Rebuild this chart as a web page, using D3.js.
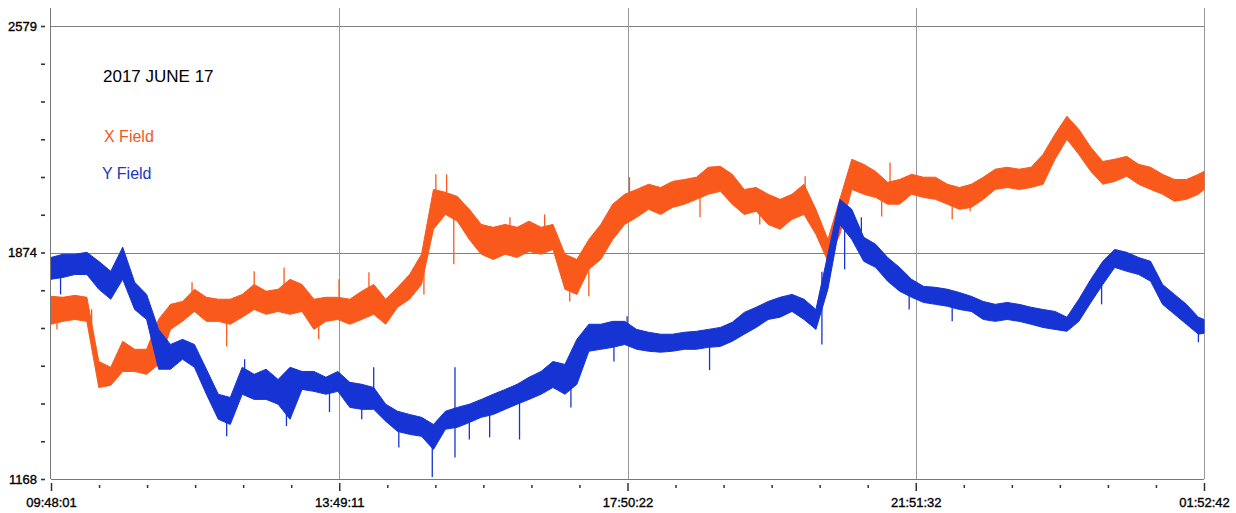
<!DOCTYPE html>
<html>
<head>
<meta charset="UTF-8">
<title>2017 JUNE 17</title>
<script src="https://cdn.jsdelivr.net/npm/d3@7/dist/d3.min.js"></script>
<style>
body { margin: 0; background: #fff; }
svg text { font-family: "Liberation Sans", Arial, sans-serif; }
</style>
</head>
<body>
<script>
// 読み取ったデータ（10分ごと、ノイズ帯の上端と下端）
var startTime = new Date(2017, 5, 17, 9, 48, 1);
var endTime = new Date(2017, 5, 18, 1, 52, 42);

var xHigh = [1737,1734,1740,1734,1534,1516,1597,1572,1572,1665,
  1712,1721,1759,1734,1728,1728,1743,1774,1753,1759,
  1790,1774,1728,1734,1734,1728,1753,1774,1728,1765,
  1805,1868,2070,2061,2048,2008,1961,1952,1961,1952,
  1971,1952,1961,1868,1852,1914,1961,2024,2055,2070,
  2086,2076,2095,2101,2108,2139,2142,2117,2070,2076,
  2055,2039,2055,2086,2008,1914,2039,2164,2148,2126,
  2092,2101,2117,2108,2108,2086,2076,2086,2108,2133,
  2139,2133,2139,2179,2242,2298,2257,2201,2157,2164,
  2173,2148,2139,2117,2101,2101,2117,2126];
var xLow = [1650,1659,1665,1659,1453,1460,1503,1503,1494,1525,
  1634,1659,1690,1659,1659,1650,1672,1696,1681,1690,
  1681,1690,1634,1659,1665,1650,1665,1681,1650,1703,
  1728,1774,1946,1992,1971,1914,1868,1852,1868,1858,
  1877,1868,1883,1759,1743,1821,1852,1914,1961,1983,
  2008,1992,2014,2024,2039,2055,2064,2024,1992,2002,
  1961,1946,1977,1992,1930,1846,1930,2070,2055,2045,
  2024,2024,2055,2045,2039,2024,2008,2014,2039,2070,
  2076,2070,2076,2086,2164,2226,2179,2126,2086,2095,
  2111,2086,2070,2055,2033,2039,2055,2070];
var yHigh = [1858,1868,1868,1874,1846,1815,1890,1781,1743,1634,
  1587,1603,1587,1510,1432,1422,1516,1494,1510,1478,
  1516,1503,1503,1485,1503,1469,1463,1453,1401,1379,
  1369,1360,1338,1379,1391,1401,1416,1432,1447,1463,
  1485,1503,1534,1525,1603,1650,1650,1659,1659,1634,
  1625,1619,1619,1625,1628,1634,1640,1656,1687,1703,
  1721,1734,1743,1728,1696,1868,2039,2008,1921,1899,
  1858,1827,1790,1768,1765,1759,1749,1737,1721,1712,
  1718,1712,1703,1696,1690,1672,1728,1790,1846,1883,
  1874,1858,1846,1774,1743,1712,1672,1665];
var yLow = [1790,1796,1805,1805,1759,1728,1790,1696,1665,1510,
  1510,1541,1516,1432,1354,1338,1432,1416,1416,1401,
  1354,1447,1441,1432,1441,1391,1385,1385,1348,1316,
  1307,1301,1260,1323,1329,1344,1360,1369,1385,1401,
  1416,1432,1453,1432,1463,1566,1572,1578,1587,1572,
  1566,1563,1566,1572,1572,1578,1581,1597,1619,1640,
  1665,1672,1690,1665,1634,1759,1961,1914,1846,1827,
  1784,1753,1734,1718,1712,1706,1696,1690,1665,1659,
  1665,1659,1650,1640,1634,1628,1659,1718,1774,1827,
  1815,1805,1784,1712,1681,1650,1619,1622];

// スパイク [開始からの分, 値]
var xSpikes = [[5,1634],[34,1609],[118,1781],[147,1581],[170,1815],[195,1827],
  [224,1603],[241,1790],[266,1812],[312,1743],[322,2117],[331,2117],[337,1837],
  [384,1983],[413,1992],[434,1721],[450,1737],[484,2108],[543,1983],[593,1961],
  [631,2111],[695,1986],[702,2154],[754,1977],[769,2002]];
var ySpikes = [[8,1743],[147,1301],[162,1541],[197,1333],[233,1376],[260,1354],
  [270,1516],[291,1266],[319,1174],[338,1516],[338,1235],[350,1291],[367,1298],
  [392,1291],[435,1391],[471,1534],[482,1675],[551,1507],[645,1587],[664,1821],
  [678,1983],[718,1696],[754,1659],[879,1712],[960,1594]];

var yTickLabels = ["2579", "1874", "1168"];
var xTickLabels = ["09:48:01", "13:49:11", "17:50:22", "21:51:32", "01:52:42"];

var colorX = "#f95a1c";
var colorY = "#1634d4";

// サイズ
var width = 1236, height = 513;
var plot = { left: 51, right: 1204, top: 26, bottom: 479 };

var svg = d3.select("body").append("svg")
  .attr("width", width)
  .attr("height", height);

var xScale = d3.scaleTime()
  .domain([startTime, endTime])
  .range([plot.left, plot.right]);
var yScale = d3.scaleLinear()
  .domain([+yTickLabels[2], +yTickLabels[0]])
  .range([plot.bottom, plot.top]);

// 時刻
var times = xHigh.map(function(d, i) {
  return i < xHigh.length - 1 ? d3.timeMinute.offset(startTime, i * 10) : endTime;
});

// 目盛りの位置
var yMin = +yTickLabels[2], yMax = +yTickLabels[0];
var yTicks = d3.range(13).map(function(k) { return yMin + k * (yMax - yMin) / 12; });
var xTicks = d3.range(25).map(function(k) {
  return new Date(+startTime + k * (endTime - startTime) / 24);
});

// グリッド
svg.append("g").selectAll("line")
  .data([yMax, (yMin + yMax) / 2])
  .enter().append("line")
  .attr("x1", plot.left).attr("x2", plot.right)
  .attr("y1", function(d) { return Math.round(yScale(d)) + 0.5; })
  .attr("y2", function(d) { return Math.round(yScale(d)) + 0.5; })
  .attr("stroke", "#808080").attr("stroke-width", 1);

svg.append("g").selectAll("line")
  .data(xTicks.filter(function(d, k) { return k % 6 === 0 && k > 0; }))
  .enter().append("line")
  .attr("x1", function(d) { return Math.round(xScale(d)) + 0.5; })
  .attr("x2", function(d) { return Math.round(xScale(d)) + 0.5; })
  .attr("y1", 8).attr("y2", plot.bottom)
  .attr("stroke", "#999").attr("stroke-width", 1);

// 折れ線（ノイズ帯）
function band(lo, hi, color) {
  var area = d3.area()
    .x(function(d, i) { return xScale(times[i]); })
    .y0(function(d, i) { return yScale(lo[i]); })
    .y1(function(d, i) { return yScale(hi[i]); });
  svg.append("path")
    .datum(hi)
    .attr("d", area)
    .attr("fill", color)
    .attr("stroke", color)
    .attr("stroke-width", 1);
}
function spikes(list, lo, hi, color) {
  svg.append("g").selectAll("line")
    .data(list)
    .enter().append("line")
    .attr("x1", function(d) { return xScale(d3.timeMinute.offset(startTime, d[0])); })
    .attr("x2", function(d) { return xScale(d3.timeMinute.offset(startTime, d[0])); })
    .attr("y1", function(d) {
      var i = Math.round(d[0] / 10);
      return yScale((lo[i] + hi[i]) / 2);
    })
    .attr("y2", function(d) { return yScale(d[1]); })
    .attr("stroke", color)
    .attr("stroke-width", 1.3);
}
band(xLow, xHigh, colorX);
spikes(xSpikes, xLow, xHigh, colorX);
band(yLow, yHigh, colorY);
spikes(ySpikes, yLow, yHigh, colorY);

// Y軸
var yAxis = svg.append("g")
  .attr("transform", "translate(" + plot.left + ",0)")
  .call(d3.axisLeft(yScale)
    .tickValues(yTicks)
    .tickSize(0)
    .tickFormat(function(d, k) { return k % 6 === 0 ? yTickLabels[2 - k / 6] : ""; }));
yAxis.select(".domain").remove();
yAxis.selectAll(".tick line")
  .attr("x1", -10).attr("x2", -6)
  .attr("stroke", "#333").attr("stroke-width", 1.6);
yAxis.selectAll(".tick text")
  .attr("x", -14)
  .attr("fill", "#000")
  .attr("stroke", "#000").attr("stroke-width", 0.35)
  .style("font-size", "13px");
svg.append("line")
  .attr("x1", plot.left - 0.5).attr("x2", plot.left - 0.5)
  .attr("y1", 8).attr("y2", plot.bottom)
  .attr("stroke", "#777").attr("stroke-width", 1);

// X軸
var xAxis = svg.append("g")
  .attr("transform", "translate(0," + plot.bottom + ")")
  .call(d3.axisBottom(xScale)
    .tickValues(xTicks)
    .tickSize(0)
    .tickFormat(function(d, k) { return k % 6 === 0 ? xTickLabels[k / 6] : ""; }));
xAxis.select(".domain").remove();
xAxis.selectAll(".tick line")
  .attr("y1", function(d, k) { return k % 6 === 0 ? 4 : 6; })
  .attr("y2", function(d, k) { return k % 6 === 0 ? 12 : 9; })
  .attr("stroke", "#333").attr("stroke-width", 1.5);
xAxis.selectAll(".tick text")
  .attr("y", 19)
  .attr("fill", "#000")
  .attr("stroke", "#000").attr("stroke-width", 0.35)
  .style("font-size", "13px");
svg.append("line")
  .attr("x1", plot.left).attr("x2", plot.right)
  .attr("y1", plot.bottom + 0.5).attr("y2", plot.bottom + 0.5)
  .attr("stroke", "#777").attr("stroke-width", 1);

// タイトルと凡例
svg.append("text")
  .attr("x", 103).attr("y", 82)
  .attr("fill", "#000")
  .style("font-size", "17px")
  .text("2017 JUNE 17");
svg.append("text")
  .attr("x", 104).attr("y", 142)
  .attr("fill", "#ec5a24")
  .style("font-size", "16px")
  .text("X Field");
svg.append("text")
  .attr("x", 102).attr("y", 179)
  .attr("fill", "#2234c4")
  .style("font-size", "16px")
  .text("Y Field");
</script>
</body>
</html>
